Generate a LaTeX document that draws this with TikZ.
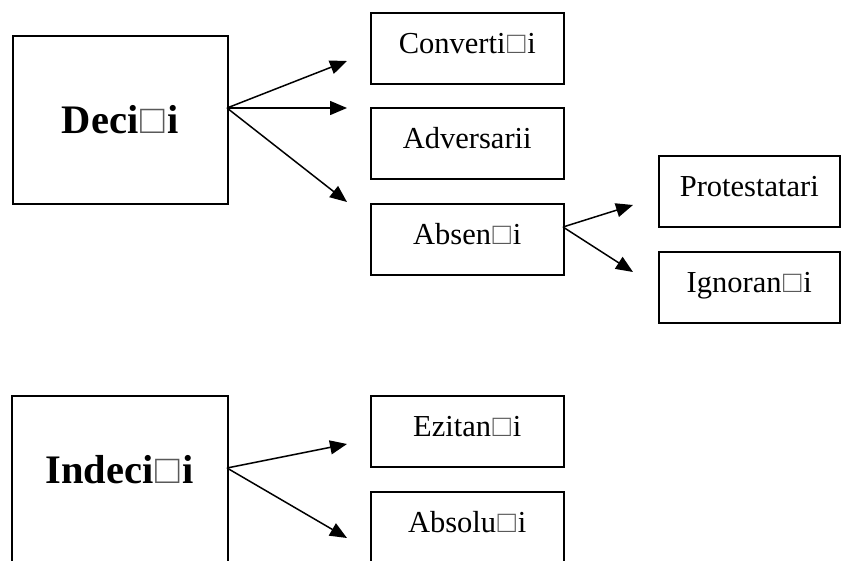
\documentclass[tikz,border=0pt]{standalone}
\usepackage{fontspec}
\setmainfont{Liberation Serif}
\usetikzlibrary{arrows.meta}
\newcommand\mybx{\kern0.05em{\color{black!65}□}\kern0.06em}
\begin{document}
\begin{tikzpicture}[x=1pt,y=-1pt,
  box/.style={draw,line width=1.5pt,rectangle,anchor=north west,inner xsep=0pt,inner ysep=0pt,
    minimum width=193pt,minimum height=71pt,text height=41pt,text depth=30pt,
    font=\fontsize{30.5}{36}\selectfont},
  bigbox/.style={draw,line width=1.5pt,rectangle,anchor=north west,inner sep=0pt,
    font=\bfseries\fontsize{40.5}{48}\selectfont},
  arr/.style={-{Triangle[length=17pt,width=14pt]},line width=1.5pt}]
\clip (0,0) rectangle (841,560);
\fill[white] (0,0) rectangle (841,560);
% left boxes
\node[bigbox,minimum width=215pt,minimum height=168pt,text height=98pt,text depth=70pt] (dec) at (12,35) {Deci\mybx i};
\node[bigbox,minimum width=216pt,minimum height=180pt,text height=88pt,text depth=92pt] (indec) at (11,395) {Indeci\mybx i};
% first column
\node[box] (conv) at (370,12) {Converti\mybx i};
\node[box] (adv) at (370,107) {Adversarii};
\node[box] (abs) at (370,203) {Absen\mybx i};
\node[box] (ezi) at (370,395) {Ezitan\mybx i};
\node[box,minimum height=80pt,text depth=39pt] (absol) at (370,491) {Absolu\mybx i};
% second column
\node[box,minimum width=181pt] (prot) at (658,155) {Protestatari};
\node[box,minimum width=181pt] (ign) at (658,251) {Ignoran\mybx i};
% connector coordinates
\coordinate (d0) at (227,108);
\coordinate (t1) at (347,61);
\coordinate (t2) at (347,108);
\coordinate (t3) at (347,202);
\coordinate (a0) at (563,227);
\coordinate (t4) at (633,205);
\coordinate (t5) at (633,272);
\coordinate (i0) at (227,468);
\coordinate (t6) at (347,444);
\coordinate (t7) at (347,538);
\draw[arr] (d0) -- (t1);
\draw[arr] (d0) -- (t2);
\draw[arr] (d0) -- (t3);
\draw[arr] (a0) -- (t4);
\draw[arr] (a0) -- (t5);
\draw[arr] (i0) -- (t6);
\draw[arr] (i0) -- (t7);
\end{tikzpicture}
\end{document}
